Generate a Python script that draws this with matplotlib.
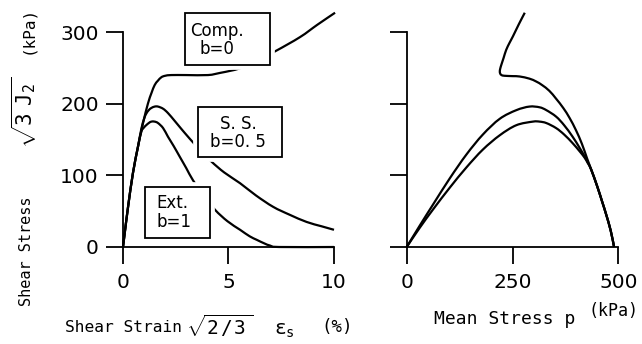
import matplotlib
matplotlib.use("Agg")
import numpy as np
import matplotlib.pyplot as plt
from matplotlib.patches import Rectangle, PathPatch
from matplotlib.path import Path

plt.rcParams["mathtext.fontset"] = "custom"
plt.rcParams["mathtext.rm"] = "DejaVu Sans Mono"
plt.rcParams["mathtext.it"] = "DejaVu Sans Mono"
plt.rcParams["mathtext.bf"] = "DejaVu Sans Mono:bold"
plt.rcParams["mathtext.sf"] = "DejaVu Sans Mono"

# ---- stress-strain curves: shear strain (%) vs shear stress sqrt(3 J2) (kPa)
comp_strain = [0, 0.08, 0.24, 0.47, 0.71, 0.95, 1.18, 1.35, 1.5, 1.65, 1.82, 2.0, 2.29,
               3.0, 4.03, 4.6, 5.1, 5.5, 6.0, 7.2, 8.39, 9.2, 10.05]
comp_q = [0, 19, 56, 103, 140, 173, 200, 215, 226, 232, 237, 239, 240,
          240, 240, 243, 246, 249, 255, 273, 293, 310, 327]

ss_strain = [0, 0.08, 0.24, 0.47, 0.71, 0.87, 1.0, 1.1, 1.22, 1.34, 1.5, 1.66, 1.9, 2.13,
             2.45, 2.76, 3.05, 3.32, 3.7, 4.2, 4.8, 5.55, 6.3, 7.12, 7.9, 8.7, 9.4, 10.0]
ss_q = [0, 19, 56, 103, 140, 165, 179, 186, 191, 194, 196, 196, 193, 187,
        176, 165, 155, 146, 134, 119, 104, 89, 72, 56, 45, 35, 29, 24]

ext_strain = [0, 0.08, 0.24, 0.47, 0.71, 0.87, 1.0, 1.1, 1.22, 1.34, 1.5, 1.66, 1.9,
              2.13, 2.4, 2.69, 3.0, 3.32, 3.8, 4.36, 4.95, 5.55, 6.0, 6.34, 6.7, 6.97,
              7.4, 10.0]
ext_q = [0, 19, 56, 103, 140, 161, 167, 170, 173, 175, 175, 173, 166,
         154, 141, 126, 110, 93, 73, 52, 36, 24, 15, 10, 5, 2, 0, 0]

# ---- effective stress paths: mean stress p (kPa) vs shear stress (kPa)
comp_p = [279, 265, 251, 243, 235, 229, 224, 221, 220, 221, 224, 231, 251, 267,
          290, 306, 320, 337, 353, 370, 385, 400, 414, 426, 436, 450, 462, 471, 482, 490]
comp_path_q = [327, 311, 294, 285, 275, 264, 255, 249, 245, 242, 240, 239, 238.5, 238,
               235, 231, 226, 218, 207, 194, 180, 163, 144, 124, 108, 85, 63, 46, 23, 0]

ss_p = [0, 31, 63, 102, 141, 180, 220, 259, 290, 314, 330, 353, 372, 392, 408, 420,
        428, 436, 450, 462, 471, 482, 490]
ss_path_q = [0, 30, 60, 96, 129, 157, 179, 191, 196, 195, 191, 182, 170, 154, 139, 127,
             118, 108, 85, 63, 46, 23, 0]

ext_p = [0, 31, 63, 102, 141, 180, 220, 259, 298, 314, 330, 353, 372, 392, 408, 420,
         428, 436, 450, 462, 471, 482, 490]
ext_path_q = [0, 27, 53, 83, 111, 136, 156, 170, 175, 175, 173, 166, 157, 145, 134, 125,
              117, 108, 85, 63, 46, 23, 0]

strain_ticks = [0, 5, 10]
p_ticks = [0, 250, 500]
q_ticks = [0, 100, 200, 300]

# case labels: text, anchor (strain, q), alignment, box extent (x0, x1, y0, y1)
cases = [
    ("Comp.\nb=0", (4.46, 289), "center", (2.94, 6.97, 254, 326.5)),
    ("S. S.\nb=0. 5", (5.45, 159), "center", (3.55, 7.54, 125.6, 195.3)),
    ("Ext.\nb=1", (1.6, 48), "left", (1.04, 4.12, 12.6, 83.7)),
]


def smooth_path(x, y):
    """Cubic Bezier path passing through every (x, y) point (Catmull-Rom tangents)."""
    pts = np.column_stack([x, y]).astype(float)
    n = len(pts)
    verts = [pts[0]]
    codes = [Path.MOVETO]
    for i in range(n - 1):
        p0 = pts[i - 1] if i > 0 else pts[i]
        p1 = pts[i]
        p2 = pts[i + 1]
        p3 = pts[i + 2] if i + 2 < n else pts[i + 1]
        c1 = p1 + (p2 - p0) / 6.0
        c2 = p2 - (p3 - p1) / 6.0
        verts += [c1, c2, p2]
        codes += [Path.CURVE4] * 3
    return Path(verts, codes)


def draw_curve(ax, x, y):
    ax.add_patch(PathPatch(smooth_path(x, y), facecolor="none", edgecolor="black",
                           lw=1.6, capstyle="butt", joinstyle="round",
                           clip_on=False, zorder=2))


W, H = 642, 344
fig = plt.figure(figsize=(W / 100, H / 100), dpi=100)

y0_px, y_top_px = 247, 7
ax_bottom = (H - y0_px) / H
ax_height = (y0_px - y_top_px) / H
ax1 = fig.add_axes([123 / W, ax_bottom, 211 / W, ax_height])
ax2 = fig.add_axes([406.7 / W, ax_bottom, 211.6 / W, ax_height])

tick_font = dict(family="DejaVu Sans", size=14.5)

for ax in (ax1, ax2):
    ax.set_ylim(0, 335)
    for s in ("top", "right"):
        ax.spines[s].set_visible(False)
    for s in ("left", "bottom"):
        ax.spines[s].set_linewidth(1.3)
    ax.spines["left"].set_bounds(0, 300)
    ax.set_yticks(q_ticks)
    ax.tick_params(direction="out", length=12.5, width=1.3, pad=5)
    ax.patch.set_alpha(0)

# left panel
ax1.set_xlim(0, 10)
ax1.spines["bottom"].set_bounds(0, 10)
ax1.set_xticks(strain_ticks)
ax1.set_xticklabels([str(t) for t in strain_ticks], **tick_font)
ax1.set_yticklabels([str(t) for t in q_ticks], **tick_font)
ax1.tick_params(axis="x", pad=6)

draw_curve(ax1, comp_strain, comp_q)
draw_curve(ax1, ss_strain, ss_q)
draw_curve(ax1, ext_strain, ext_q)

for text, (tx, ty), ha, (bx0, bx1, by0, by1) in cases:
    # white margin around each label box breaks the curve underneath
    ax1.add_patch(Rectangle((bx0, by0), bx1 - bx0, by1 - by0, facecolor="white",
                            edgecolor="white", lw=7, zorder=3, clip_on=False))
    ax1.add_patch(Rectangle((bx0, by0), bx1 - bx0, by1 - by0, facecolor="none",
                            edgecolor="black", lw=1.3, zorder=4, clip_on=False))
    ax1.text(tx, ty, text, ha=ha, va="center",
             multialignment="center" if ha == "center" else "left",
             fontsize=12, family="DejaVu Sans", linespacing=1.05, zorder=5)

# right panel
ax2.set_xlim(0, 500)
ax2.spines["bottom"].set_bounds(0, 500)
ax2.set_xticks(p_ticks)
ax2.set_xticklabels([str(t) for t in p_ticks], **tick_font)
ax2.set_yticklabels([])
ax2.tick_params(axis="x", pad=6)

draw_curve(ax2, comp_p, comp_path_q)
draw_curve(ax2, ss_p, ss_path_q)
draw_curve(ax2, ext_p, ext_path_q)

# axis titles, set piece by piece
mono = "DejaVu Sans Mono"


def fx(px):
    return px / W


def fy(py):
    return 1 - py / H


# vertical title
fig.text(fx(27), fy(251), "Shear Stress", rotation=90, ha="center", va="center",
         family=mono, size=11)
fig.text(fx(24), fy(112), r"$\sqrt{\mathrm{3}\;\;\mathrm{J}_{\mathrm{2}}\,}$", rotation=90,
         ha="center", va="center", family=mono, size=15)
fig.text(fx(28), fy(30), "(kPa)", rotation=90, ha="center", va="center",
         family=mono, size=11.5)

# horizontal title, left panel
fig.text(fx(65), fy(328), "Shear Strain", ha="left", va="center", family=mono, size=11.7)
fig.text(fx(186), fy(326), r"$\sqrt{\mathrm{2}\,/\,\mathrm{3}\;}$", ha="left", va="center",
         family=mono, size=14)
fig.text(fx(274), fy(330), r"$\varepsilon_{\mathrm{s}}$", ha="left", va="center",
         family=mono, size=14)
fig.text(fx(321), fy(327), "(%)", ha="left", va="center", family=mono, size=12.5)

# horizontal title, right panel
fig.text(fx(434), fy(319), "Mean Stress p", ha="left", va="center", family=mono, size=13)
fig.text(fx(638), fy(311), "(kPa)", ha="right", va="center", family=mono, size=12)

fig.savefig("out.png", dpi=100)
